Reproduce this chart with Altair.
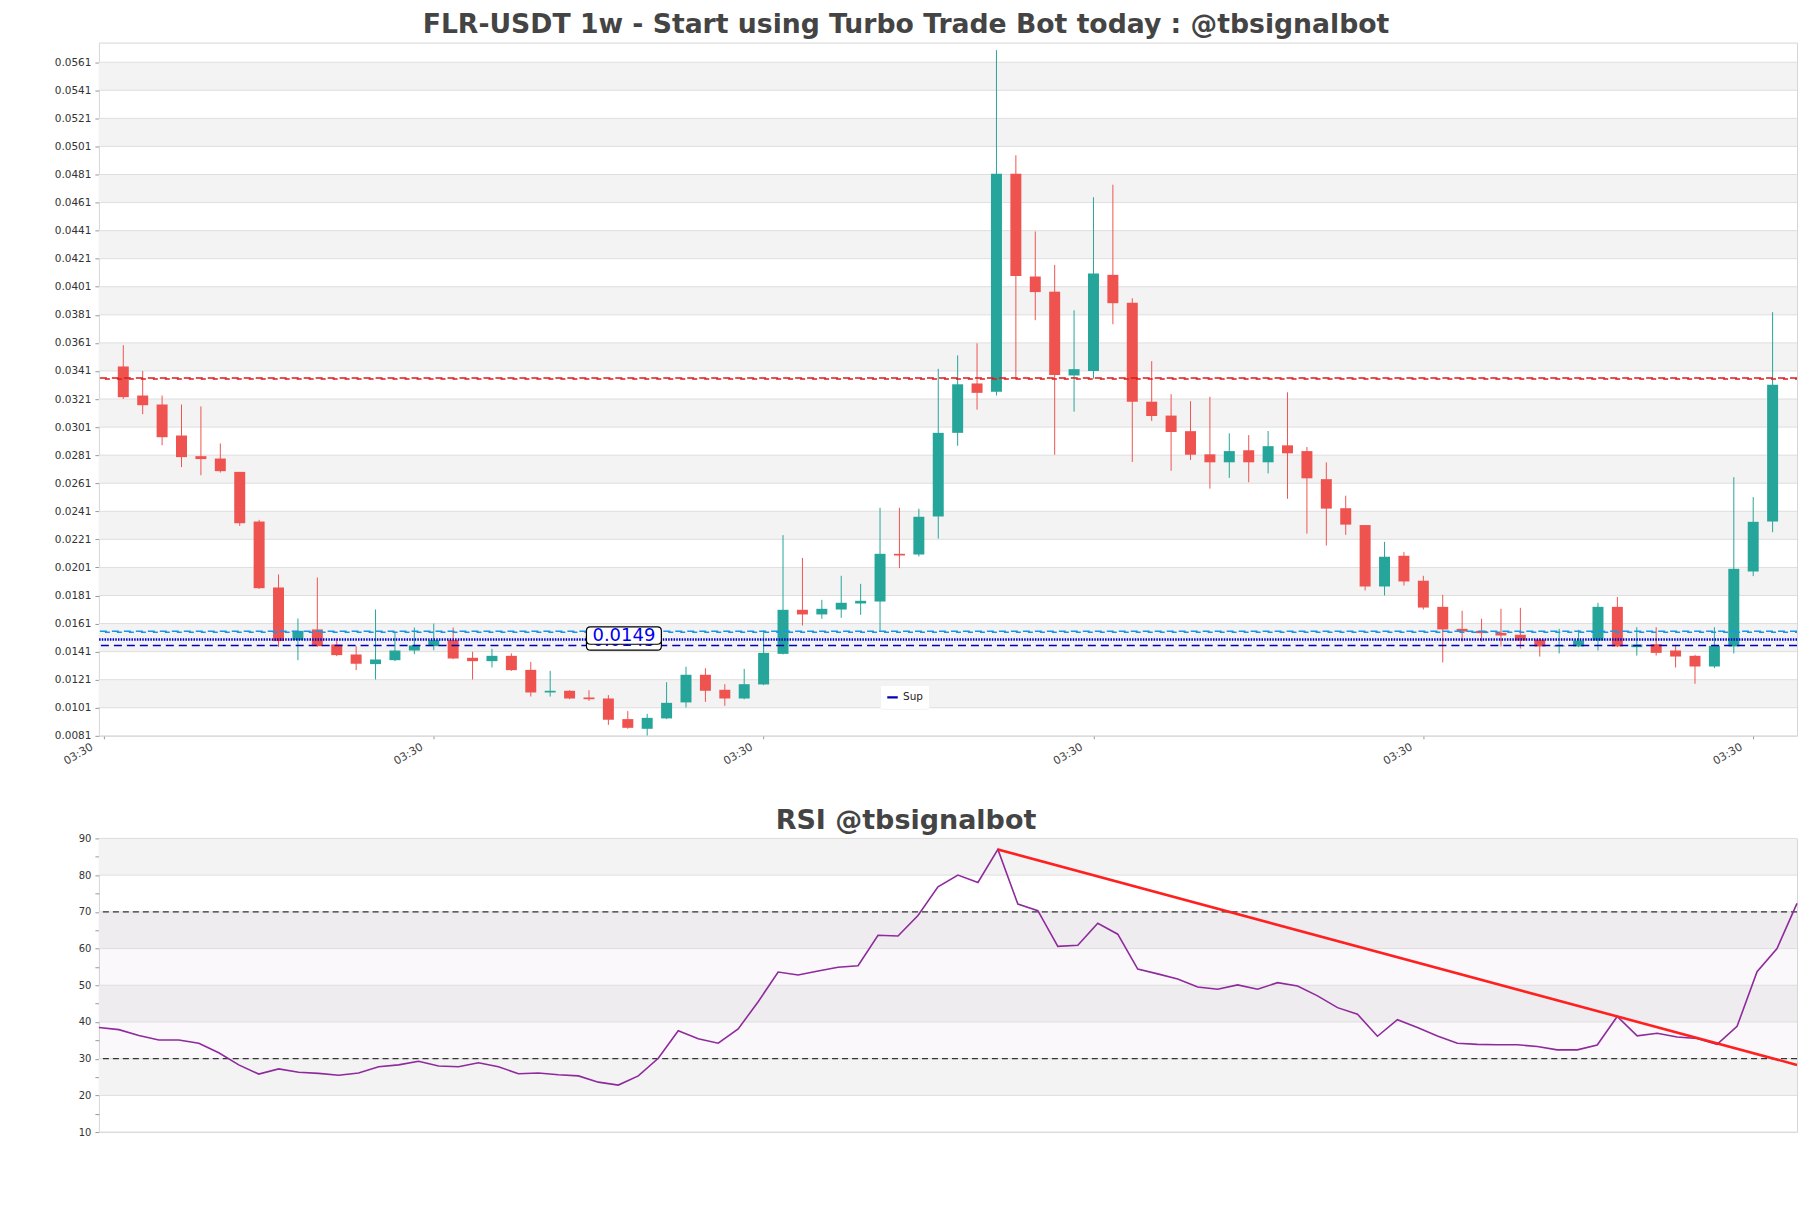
import altair as alt
import pandas as pd

TITLE = "FLR-USDT 1w - Start using Turbo Trade Bot today : @tbsignalbot"
RSI_TITLE = "RSI @tbsignalbot"

# weekly candles
open_ = [0.03442, 0.03235, 0.03171, 0.02950, 0.02803, 0.02786, 0.02691, 0.02337, 0.01867, 0.01492,
         0.01568, 0.01461, 0.01390, 0.01321, 0.01349, 0.01418, 0.01449, 0.01492, 0.01366, 0.01342,
         0.01380, 0.01280, 0.01119, 0.01131, 0.01083, 0.01076, 0.00929, 0.00860, 0.00934, 0.01048,
         0.01245, 0.01138, 0.01076, 0.01176, 0.01394, 0.01708, 0.01675, 0.01710, 0.01753, 0.01767,
         0.02107, 0.02102, 0.02373, 0.02969, 0.03321, 0.03261, 0.04816, 0.04083, 0.03975, 0.03378,
         0.03410, 0.04095, 0.03896, 0.03191, 0.03092, 0.02981, 0.02816, 0.02759, 0.02845, 0.02759,
         0.02880, 0.02839, 0.02639, 0.02432, 0.02312, 0.01874, 0.02093, 0.01915, 0.01729, 0.01572,
         0.01558, 0.01544, 0.01530, 0.01496, 0.01447, 0.01447, 0.01489, 0.01729, 0.01442, 0.01463,
         0.01418, 0.01380, 0.01304, 0.01447, 0.01981, 0.02337]
high = [0.03594, 0.03410, 0.03235, 0.03171, 0.03157, 0.02893, 0.02691, 0.02349, 0.01960, 0.01646,
        0.01938, 0.01504, 0.01449, 0.01710, 0.01544, 0.01582, 0.01610, 0.01582, 0.01409, 0.01430,
        0.01397, 0.01337, 0.01273, 0.01135, 0.01135, 0.01100, 0.00986, 0.00967, 0.01192, 0.01302,
        0.01292, 0.01178, 0.01287, 0.01561, 0.02240, 0.02078, 0.01779, 0.01950, 0.01893, 0.02435,
        0.02435, 0.02428, 0.03425, 0.03521, 0.03607, 0.05696, 0.04947, 0.04404, 0.04166, 0.03842,
        0.04648, 0.04737, 0.03928, 0.03480, 0.03245, 0.03194, 0.03226, 0.02966, 0.02953, 0.02982,
        0.03258, 0.02868, 0.02759, 0.02521, 0.02312, 0.02192, 0.02119, 0.01950, 0.01815, 0.01701,
        0.01644, 0.01715, 0.01722, 0.01506, 0.01572, 0.01565, 0.01758, 0.01800, 0.01584, 0.01584,
        0.01456, 0.01387, 0.01584, 0.02653, 0.02511, 0.03829]
low = [0.03210, 0.03102, 0.02881, 0.02725, 0.02667, 0.02686, 0.02306, 0.01857, 0.01444, 0.01349,
       0.01444, 0.01378, 0.01278, 0.01211, 0.01342, 0.01392, 0.01420, 0.01356, 0.01211, 0.01297,
       0.01273, 0.01090, 0.01090, 0.01071, 0.01059, 0.00888, 0.00860, 0.00812, 0.00929, 0.01012,
       0.01052, 0.01024, 0.01071, 0.01171, 0.01390, 0.01596, 0.01644, 0.01651, 0.01672, 0.01553,
       0.02005, 0.02088, 0.02216, 0.02877, 0.03134, 0.03235, 0.03347, 0.03772, 0.02813, 0.03120,
       0.03356, 0.03743, 0.02762, 0.03054, 0.02699, 0.02775, 0.02572, 0.02648, 0.02617, 0.02680,
       0.02499, 0.02251, 0.02166, 0.02242, 0.01846, 0.01810, 0.01881, 0.01710, 0.01333, 0.01482,
       0.01482, 0.01447, 0.01432, 0.01375, 0.01397, 0.01442, 0.01418, 0.01442, 0.01382, 0.01382,
       0.01297, 0.01181, 0.01292, 0.01397, 0.01948, 0.02261]
close = [0.03223, 0.03166, 0.02938, 0.02796, 0.02782, 0.02696, 0.02325, 0.01862, 0.01485, 0.01558,
         0.01449, 0.01385, 0.01323, 0.01354, 0.01418, 0.01454, 0.01492, 0.01361, 0.01342, 0.01380,
         0.01278, 0.01119, 0.01131, 0.01076, 0.01071, 0.00924, 0.00867, 0.00938, 0.01045, 0.01245,
         0.01131, 0.01076, 0.01178, 0.01401, 0.01708, 0.01675, 0.01715, 0.01758, 0.01772, 0.02107,
         0.02095, 0.02371, 0.02969, 0.03315, 0.03254, 0.04816, 0.04086, 0.03972, 0.03381, 0.03423,
         0.04105, 0.03893, 0.03191, 0.03089, 0.02975, 0.02813, 0.02759, 0.02839, 0.02759, 0.02874,
         0.02823, 0.02645, 0.02429, 0.02315, 0.01874, 0.02086, 0.01910, 0.01724, 0.01568, 0.01553,
         0.01542, 0.01525, 0.01489, 0.01447, 0.01454, 0.01489, 0.01729, 0.01447, 0.01460, 0.01401,
         0.01375, 0.01304, 0.01451, 0.02000, 0.02335, 0.03311]

rsi = [38.5, 37.9, 36.3, 35.1, 35.1, 34.2, 31.6, 28.3, 25.8, 27.2,
       26.3, 26.0, 25.5, 26.1, 27.8, 28.3, 29.3, 28.0, 27.8, 28.9,
       27.8, 25.9, 26.1, 25.6, 25.3, 23.6, 22.8, 25.3, 30.1, 37.6,
       35.4, 34.2, 38.1, 45.5, 53.6, 52.8, 53.9, 54.9, 55.3, 63.6,
       63.4, 69.0, 76.8, 80.0, 78.0, 87.0, 72.1, 70.3, 60.6, 60.9,
       66.9, 63.9, 54.4, 53.1, 51.7, 49.5, 48.9, 50.1, 48.9, 50.7,
       49.8, 47.1, 43.9, 42.1, 36.1, 40.6, 38.5, 36.2, 34.2, 33.9,
       33.8, 33.8, 33.3, 32.4, 32.4, 33.7, 41.5, 36.2, 36.9, 35.9,
       35.5, 33.9, 38.8, 53.7, 60.0, 72.3]

price_ticks = [0.0081, 0.0101, 0.0121, 0.0141, 0.0161, 0.0181, 0.0201, 0.0221, 0.0241,
               0.0261, 0.0281, 0.0301, 0.0321, 0.0341, 0.0361, 0.0381, 0.0401, 0.0421,
               0.0441, 0.0461, 0.0481, 0.0501, 0.0521, 0.0541, 0.0561]
price_top = 0.0575
rsi_ticks = [10, 20, 30, 40, 50, 60, 70, 80, 90]
rsi_minor = [15, 25, 35, 45, 55, 65, 75, 85]
x_tick_pos = [-1, 16, 33, 50, 67, 84]
x_tick_labels = ["03:30", "03:30", "03:30", "03:30", "03:30", "03:30"]

resistance_levels = [0.03360, 0.03352]
zone_levels = [0.01556, 0.01548]
support_dotted = [0.01496]
support_dashed = [0.01454]
sup_names = ["Sup"]
label_texts = ["0.0145", "0.0149"]
label_values = [0.01454, 0.01496]
label_pos = [25.8, 25.8]
rsi_levels = [30, 70]
trend_x = [45, 85]
trend_y = [87.0, 28.3]

RED = "#ef5350"
GREEN = "#26a69a"
FONT = "DejaVu Sans"
W = 1700
H_MAIN = 694
H_RSI = 294

N = len(open_)
df = pd.DataFrame({"i": list(range(N)), "open": open_, "high": high, "low": low, "close": close})
df["dir"] = ["up" if c >= o else "down" for o, c in zip(open_, close)]

xs = alt.Scale(domain=[-1, N], nice=False, zero=False)
ys = alt.Scale(domain=[price_ticks[0], price_top], nice=False, zero=False)

label_expr = "[" + ",".join("'%s'" % s for s in x_tick_labels) + "][indexof([" + \
    ",".join(str(v) for v in x_tick_pos) + "], datum.value)]"
X_AXIS = alt.Axis(values=x_tick_pos, labelExpr=label_expr, labelAngle=-30, labelAlign="right",
                  labelBaseline="top", labelFontSize=11, labelColor="#444", labelFont=FONT,
                  labelOffset=-15, tickSize=3, tickColor="#999", domain=False, grid=False,
                  title=None, labelPadding=2)
Y_AXIS = alt.Axis(values=price_ticks, format=".4f", labelFontSize=10.5, labelColor="#333",
                  labelFont=FONT, tickSize=4, tickColor="#999", domain=False, grid=False,
                  title=None, minExtent=50, maxExtent=50, labelPadding=4)

def X(field):
    return alt.X(field, type="quantitative", scale=xs, axis=X_AXIS)

def Y(field):
    return alt.Y(field, type="quantitative", scale=ys, axis=Y_AXIS)

# background bands
band_main = pd.DataFrame({"lo": price_ticks[1:-1:2], "hi": price_ticks[2::2]})
bands = alt.Chart(band_main).mark_rect(color="#f3f3f3").encode(
    x=alt.value(0), x2=alt.value(W), y=Y("lo"), y2="hi")
grid = alt.Chart(pd.DataFrame({"v": price_ticks})).mark_rule(color="#dedede", strokeWidth=1).encode(y=Y("v"))

candle_layers = []
for d, col in [("up", GREEN), ("down", RED)]:
    base = alt.Chart(df).transform_filter(alt.datum.dir == d)
    candle_layers.append(base.mark_rule(strokeWidth=1, color=col).encode(x=X("i"), y=Y("low"), y2="high"))
    candle_layers.append(base.mark_bar(size=11, color=col).encode(x=X("i"), y=Y("open"), y2="close"))

res1 = alt.Chart(pd.DataFrame({"v": resistance_levels[:1]})).mark_rule(
    color="#e01b1b", strokeDash=[7, 5], strokeWidth=1.5).encode(y=Y("v"))
res2 = alt.Chart(pd.DataFrame({"v": resistance_levels[1:]})).mark_rule(
    color="#e01b1b", strokeDash=[5, 7], strokeDashOffset=3, strokeWidth=1.5).encode(y=Y("v"))
zone1 = alt.Chart(pd.DataFrame({"v": zone_levels[:1]})).mark_rule(
    color="#1a96e8", strokeDash=[7, 5], strokeWidth=1.5).encode(y=Y("v"))
zone2 = alt.Chart(pd.DataFrame({"v": zone_levels[1:]})).mark_rule(
    color="#1a96e8", strokeDash=[5, 7], strokeDashOffset=3, strokeWidth=1.5).encode(y=Y("v"))
dotted = alt.Chart(pd.DataFrame({"v": support_dotted})).mark_rule(
    color="#0000cc", strokeDash=[1.5, 1.2], strokeWidth=2.6).encode(y=Y("v"))
dashed = alt.Chart(pd.DataFrame({"v": support_dashed, "name": sup_names})).mark_rule(
    strokeDash=[8, 5], strokeWidth=1.4).encode(
    y=Y("v"),
    color=alt.Color("name:N", scale=alt.Scale(domain=sup_names, range=["#0000b8"]),
                    legend=alt.Legend(orient="none", legendX=782, legendY=643, title=None,
                                      symbolType="stroke", symbolStrokeWidth=2.2, symbolSize=110,
                                      symbolDash=[1, 0], labelFontSize=10.5, labelFont=FONT,
                                      labelColor="#222", fillColor="white", padding=6,
                                      cornerRadius=2, strokeColor="#f2f2f2")))

BOX = ("M -0.893 -0.34 L 0.893 -0.34 Q 1 -0.34 1 -0.233 L 1 0.019 Q 1 0.126 0.893 0.126 "
       "L -0.893 0.126 Q -1 0.126 -1 0.019 L -1 -0.233 Q -1 -0.34 -0.893 -0.34 Z")
lab = pd.DataFrame({"i": label_pos, "v": label_values, "t": label_texts, "k": [0, 1]})
label_layers = []
for k in [0, 1]:
    base = alt.Chart(lab).transform_filter(alt.datum.k == k)
    label_layers.append(base.mark_point(shape=BOX, size=5625, filled=True, fill="white", fillOpacity=1,
                                        stroke="black", strokeWidth=1.2, opacity=1).encode(x=X("i"), y=Y("v")))
    label_layers.append(base.mark_text(font=FONT, fontSize=18, color="#0000ee", dy=-4).encode(
        x=X("i"), y=Y("v"), text="t:N"))

main = alt.layer(bands, grid, *candle_layers, res1, res2, zone1, zone2, dotted, dashed,
                 *label_layers).properties(
    width=W, height=H_MAIN,
    title=alt.TitleParams(TITLE, fontSize=26.7, fontWeight="bold", color="#444444", font=FONT,
                          anchor="middle", dx=-42, offset=3.5))

# RSI panel
rx = alt.Scale(domain=[0, N - 1], nice=False, zero=False)
ry = alt.Scale(domain=[rsi_ticks[0], rsi_ticks[-1]], nice=False, zero=False)
RY_AXIS = alt.Axis(values=rsi_ticks + rsi_minor, labelExpr="datum.value % 10 == 0 ? datum.label : ''",
                   labelFontSize=10, labelColor="#333", labelFont=FONT, tickSize=4, tickColor="#999",
                   domain=False, grid=False, title=None, minExtent=50, maxExtent=50, labelPadding=4)

def RY(field):
    return alt.Y(field, type="quantitative", scale=ry, axis=RY_AXIS)

rsi_df = pd.DataFrame({"i": list(range(N)), "rsi": rsi})
band_rsi = pd.DataFrame({"lo": rsi_ticks[1:-1:2], "hi": rsi_ticks[2::2]})
rbands = alt.Chart(band_rsi).mark_rect(color="#f3f3f3").encode(
    x=alt.value(0), x2=alt.value(W), y=RY("lo"), y2="hi")
hatch = alt.Chart(pd.DataFrame({"lo": rsi_levels[:1], "hi": rsi_levels[1:]})).mark_rect(
    color="#9a5aa8", opacity=0.045).encode(x=alt.value(0), x2=alt.value(W), y=RY("lo"), y2="hi")
rgrid = alt.Chart(pd.DataFrame({"v": rsi_ticks})).mark_rule(color="#dedede", strokeWidth=1).encode(y=RY("v"))
rlev = alt.Chart(pd.DataFrame({"v": rsi_levels})).mark_rule(
    color="#333333", strokeDash=[6, 4], strokeWidth=1.2).encode(y=RY("v"))
rline = alt.Chart(rsi_df).mark_line(color="#8e2a9c", strokeWidth=1.6).encode(
    x=alt.X("i:Q", scale=rx, axis=None), y=RY("rsi"))
trend = alt.Chart(pd.DataFrame({"i": trend_x, "v": trend_y})).mark_line(
    color="#ff2020", strokeWidth=2.6).encode(x=alt.X("i:Q", scale=rx, axis=None), y=RY("v"))

rsi_chart = alt.layer(rbands, hatch, rgrid, rlev, rline, trend).properties(
    width=W, height=H_RSI,
    title=alt.TitleParams(RSI_TITLE, fontSize=27, fontWeight="bold", color="#444444", font=FONT,
                          anchor="middle", dx=-42, offset=-1.3))

chart = alt.vconcat(main, rsi_chart, spacing=38.7).resolve_legend(color="independent").properties(
    padding={"left": 40, "top": 3, "right": 0, "bottom": 0}).configure_view(stroke="#d6d6d6")

chart.save("out.html", embed_options={"renderer": "svg", "actions": False})
